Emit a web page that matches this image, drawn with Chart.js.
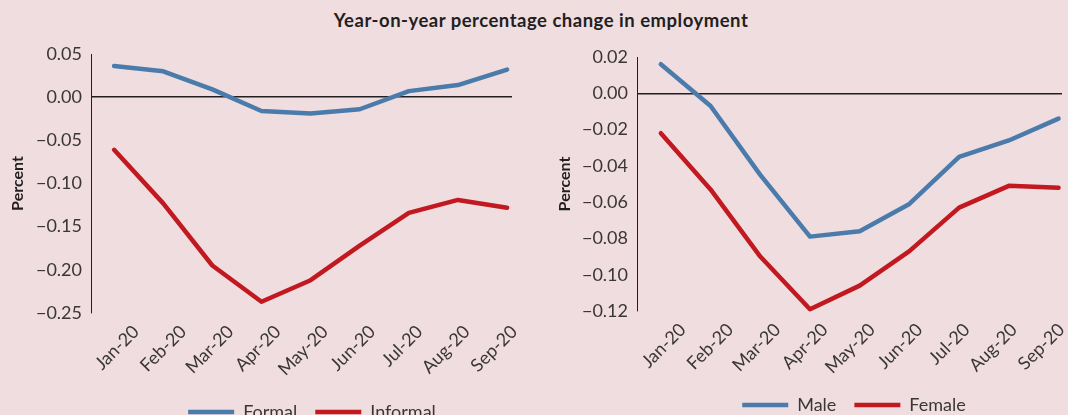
<!DOCTYPE html>
<html lang="en">
<head>
  <meta charset="UTF-8">
  <title>Year-on-year percentage change in employment</title>
  <script src="https://cdn.jsdelivr.net/npm/chart.js"></script>
  <style>
    html, body {
      margin: 0;
      padding: 0;
    }

    body {
      width: 1068px;
      height: 415px;
      overflow: hidden;
      position: relative;
      background: #efdde0;
      font-family: 'Lato', sans-serif;
    }

    .subtitle {
      position: absolute;
      left: 0;
      width: 1082px;
      top: 9px;
      text-align: center;
      font-weight: bold;
      font-size: 18.5px;
      letter-spacing: 0.5px;
      color: #231f20;
    }

    canvas {
      position: absolute;
      top: 0;
    }
  </style>
</head>

<body>
  <div class="subtitle">Year-on-year percentage change in employment</div>
  <canvas id="leftChart" width="624" height="431" style="left:0"></canvas>
  <canvas id="rightChart" width="608" height="424" style="left:550px"></canvas>

  <script>
    const months = ['Jan-20', 'Feb-20', 'Mar-20', 'Apr-20', 'May-20', 'Jun-20', 'Jul-20', 'Aug-20', 'Sep-20'];

    // left panel: by sector
    const formal = [0.036, 0.030, 0.009, -0.016, -0.019, -0.014, 0.007, 0.014, 0.032];
    const informal = [-0.061, -0.123, -0.195, -0.237, -0.212, -0.172, -0.134, -0.119, -0.128];
    const leftTicks = [0.05, 0.00, -0.05, -0.10, -0.15, -0.20, -0.25];

    // right panel: by gender
    const male = [0.016, -0.007, -0.045, -0.079, -0.076, -0.061, -0.035, -0.026, -0.014];
    const female = [-0.022, -0.053, -0.090, -0.119, -0.106, -0.087, -0.063, -0.051, -0.052];
    const rightTicks = [0.02, 0.00, -0.02, -0.04, -0.06, -0.08, -0.10, -0.12];

    const BLUE = '#4b7baa';
    const RED = '#c1191f';
    const INK = '#231f20';
    const TEXT = '#3a3637';

    Chart.defaults.font.family = "'Lato', sans-serif";

    const fmt = (v) => (v < -1e-9 ? '\u2212' : '') + Math.abs(v).toFixed(2);

    function series(label, values, color) {
      return {
        label,
        data: values.map((y, i) => ({ x: i, y })),
        borderColor: color,
        backgroundColor: color,
        borderWidth: 4.5,
        borderJoinStyle: 'round',
        borderCapStyle: 'round',
        pointRadius: 0,
        pointStyle: 'line',
        tension: 0,
        clip: false,
      };
    }

    function makeChart(id, datasets, yTicks, box) {
      const ctx = document.getElementById(id).getContext('2d');
      // the month labels sit a little tighter than the data points in the original
      const k = box.labelStep;
      return new Chart(ctx, {
        type: 'line',
        data: { datasets },
        options: {
          responsive: false,
          animation: false,
          devicePixelRatio: 1,
          layout: { padding: { top: box.top, right: 0, left: 0, bottom: 0 } },
          plugins: {
            tooltip: { enabled: false },
            legend: {
              position: 'bottom',
              labels: {
                usePointStyle: true,
                pointStyleWidth: 46,
                padding: box.legendPad,
                color: TEXT,
                font: { size: 18 },
              },
            },
          },
          scales: {
            x: {
              type: 'linear',
              min: box.xMin,
              max: box.xMax,
              afterBuildTicks: (s) => { s.ticks = months.map((m, i) => ({ value: i * k })); },
              afterFit: (s) => { s.height = box.xHeight; },
              grid: { display: false },
              border: { display: false },
              ticks: {
                autoSkip: false,
                minRotation: 45,
                maxRotation: 45,
                labelOffset: 22,
                padding: 0,
                color: TEXT,
                font: { size: 18 },
                callback: (v) => months[Math.round(v / k)],
              },
            },
            y: {
              min: yTicks[yTicks.length - 1],
              max: yTicks[0],
              afterBuildTicks: (s) => { s.ticks = yTicks.map((v) => ({ value: v })); },
              afterFit: (s) => { s.width = box.yWidth; },
              border: { display: true, color: INK, width: 1 },
              grid: {
                drawTicks: false,
                lineWidth: 1.4,
                color: (c) => (c.tick && Math.abs(c.tick.value) < 1e-9 ? INK : 'rgba(0,0,0,0)'),
              },
              ticks: {
                padding: 9,
                color: TEXT,
                font: { size: 18 },
                callback: (v) => fmt(v),
              },
              title: {
                display: true,
                text: 'Percent',
                color: INK,
                font: { size: 16, weight: 'bold' },
                padding: { top: box.titlePad, bottom: 0 },
              },
            },
            // empty right-hand spacer so the legend stays centred on the whole panel
            spacer: {
              position: 'right',
              display: true,
              afterFit: (s) => { s.width = box.right; },
              grid: { display: false },
              border: { display: false },
              ticks: { display: false },
            },
          },
        },
      });
    }

    makeChart('leftChart', [series('Formal', formal, BLUE), series('Informal', informal, RED)], leftTicks, {
      top: 54, right: 112, yWidth: 91, xHeight: 72, xMin: -0.47, xMax: 8.1,
      labelStep: 0.962, legendPad: 18, titlePad: 8,
    });

    makeChart('rightChart', [series('Male', male, BLUE), series('Female', female, RED)], rightTicks, {
      top: 57, right: 96, yWidth: 87, xHeight: 67, xMin: -0.48, xMax: 8.07,
      labelStep: 0.952, legendPad: 18, titlePad: 5,
    });
  </script>
</body>

</html>
